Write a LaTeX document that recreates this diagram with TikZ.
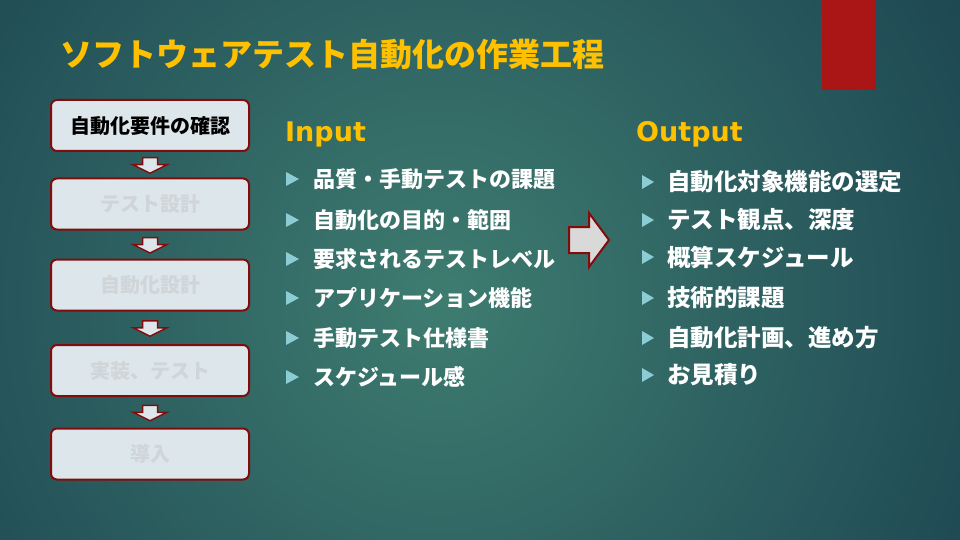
\documentclass[tikz,border=0pt]{standalone}
\usepackage{fontspec}
\setmainfont{Noto Sans CJK JP}
\newfontfamily\headfont{DejaVu Sans}
\usetikzlibrary{calc}
\definecolor{bginner}{RGB}{62,124,112}
\definecolor{bgouter}{RGB}{20,56,74}
\definecolor{titlegold}{RGB}{255,192,0}
\definecolor{boxred}{RGB}{130,12,12}
\definecolor{boxfill}{RGB}{221,230,234}
\definecolor{fadetext}{RGB}{208,213,216}
\definecolor{bulletcyan}{RGB}{140,204,212}
\definecolor{barred}{RGB}{170,22,22}
\definecolor{arrowgray}{RGB}{217,217,217}

\begin{document}
\begin{tikzpicture}[x=1pt,y=-1pt,
  stepbox/.style={draw=boxred,line width=2pt,fill=boxfill,rounded corners=6pt,minimum width=198pt,minimum height=51pt,text=fadetext,font=\bfseries\fontsize{20}{23}\selectfont},
  downarr/.style={draw=boxred,line width=1.5pt,fill=boxfill},
  bigarr/.style={draw=boxred,line width=2pt,fill=arrowgray},
  head/.style={anchor=base west,inner sep=0pt,text=titlegold,font=\headfont\bfseries\fontsize{27}{30}\selectfont},
  item/.style={anchor=west,inner sep=0pt,text=white,font=\bfseries\fontsize{22}{26}\selectfont},
  bullet/.style={fill=bulletcyan}]
\useasboundingbox (0,0) rectangle (960,540);
\begin{scope}
\clip (0,0) rectangle (960,540);
\shade[inner color=bginner,outer color=bgouter] (440,300) circle (780);
\end{scope}
\fill[barred] (822,0) rectangle (876,90);
\node[anchor=base west,inner sep=0pt,text=titlegold,font=\bfseries\fontsize{32}{36}\selectfont] (title) at (60,67) {ソフトウェアテスト自動化の作業工程};

\node[stepbox,text=black] (b1) at (150,125.5) {自動化要件の確認};
\node[stepbox] (b2) at (150,204) {テスト設計};
\node[stepbox] (b3) at (150,285) {自動化設計};
\node[stepbox] (b4) at (150,370.5) {実装、テスト};
\node[stepbox] (b5) at (150,454) {導入};
\foreach \a/\b in {b1/b2,b2/b3,b3/b4,b4/b5}
  \draw[downarr,shift={($(\a.south)!0.5!(\b.north)$)}] (-7.5,-7) -- (7.5,-7) -- (7.5,0) -- (17,0) -- (0,8.5) -- (-17,0) -- (-7.5,0) -- cycle;

\node[head] (inhead) at (285,142) {Input};
\node[head] (outhead) at (636,142) {Output};
\foreach \y/\t [count=\i] in {179/品質・手動テストの課題,220/自動化の目的・範囲,259/要求されるテストレベル,298/アプリケーション機能,338/手動テスト仕様書,377/スケジュール感}{
  \node[item] (in\i) at (313,\y) {\t};
  \fill[bullet] ([xshift=-27pt]in\i.west) ++(0,-7) -- ++(13,7) -- ++(-13,7) -- cycle;
}
\foreach \y/\t [count=\i] in {182/自動化対象機能の選定,220/テスト観点、深度,257/概算スケジュール,298/技術的課題,338/自動化計画、進め方,375/お見積り}{
  \node[item,font=\bfseries\fontsize{23.5}{27}\selectfont] (out\i) at (667,\y) {\t};
  \fill[bullet] ([xshift=-25pt]out\i.west) ++(0,-7) -- ++(12,7) -- ++(-12,7) -- cycle;
}

\coordinate (mid) at (589,240);
\draw[bigarr] (mid) ++(-20,-13) -- ++(20,0) -- ++(0,-14) -- ++(20,27) -- ++(-20,27) -- ++(0,-14) -- ++(-20,0) -- cycle;
\end{tikzpicture}
\end{document}
